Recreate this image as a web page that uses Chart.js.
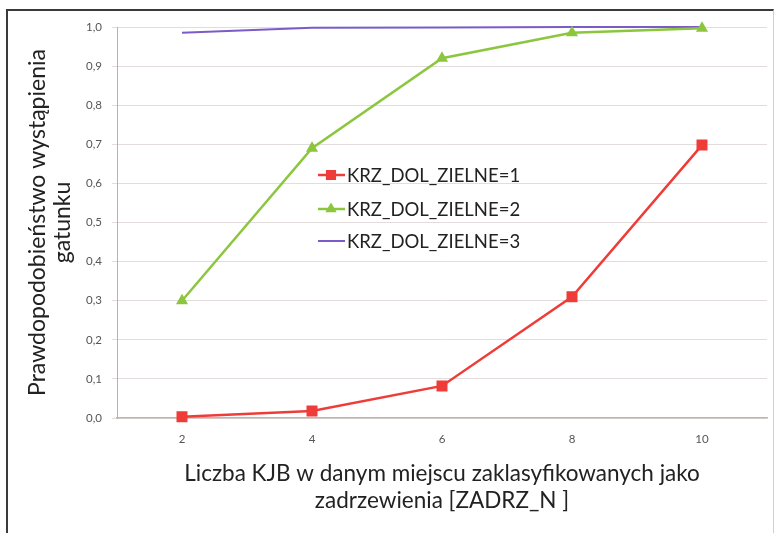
<!DOCTYPE html>
<html lang="pl">
  <head>
    <meta charset="utf-8" />
    <title>Prawdopodobieństwo wystąpienia gatunku</title>
    <style>
      * {
        margin: 0;
        padding: 0;
      }
      body {
        width: 777px;
        height: 533px;
        overflow: hidden;
        background: #fff;
        position: relative;
      }
      .frame {
        position: absolute;
        left: 6px;
        top: 9px;
        width: 765px;
        height: 600px;
        border-left: 2px solid #3a3a3a;
        border-top: 2px solid #3a3a3a;
        border-right: 1px solid #d0d0d0;
      }
      #myChart {
        position: absolute;
        left: 0;
        top: 0;
      }
    </style>
  </head>
  <body>
    <div class="frame"></div>
    <canvas id="myChart" width="777" height="533"></canvas>
    <script src="https://cdn.jsdelivr.net/npm/chart.js"></script>
    <script>
      // setup
      const categories = ["2", "4", "6", "8", "10"];
      const zielne1 = [0.003, 0.018, 0.082, 0.31, 0.698];
      const zielne2 = [0.3, 0.69, 0.92, 0.985, 0.997];
      const zielne3 = [0.985, 0.998, 0.999, 1.0, 1.0];
      const seriesNames = ["KRZ_DOL_ZIELNE=1", "KRZ_DOL_ZIELNE=2", "KRZ_DOL_ZIELNE=3"];
      const yTitle = ["Prawdopodobieństwo wystąpienia", "gatunku"];
      const xTitle = ["Liczba KJB w danym miejscu zaklasyfikowanych jako", "zadrzewienia [ZADRZ_N ]"];

      const FONT = "Lato, 'Open Sans', sans-serif";

      const data = {
        labels: categories,
        datasets: [
          {
            label: seriesNames[0],
            data: zielne1,
            borderColor: "#ee3d39",
            backgroundColor: "#ee3d39",
            borderWidth: 2.5,
            pointStyle: "rect",
            pointRadius: 6,
            clip: false,
          },
          {
            label: seriesNames[1],
            data: zielne2,
            borderColor: "#8cc63e",
            backgroundColor: "#8cc63e",
            borderWidth: 2.5,
            pointStyle: "triangle",
            pointRadius: 4.5,
            clip: false,
          },
          {
            label: seriesNames[2],
            data: zielne3,
            borderColor: "#7b5cc6",
            backgroundColor: "#7b5cc6",
            borderWidth: 2,
            pointRadius: 0,
            clip: false,
          },
        ],
      };

      // legend drawn inside the plot area
      const innerLegend = {
        id: "innerLegend",
        afterDatasetsDraw(chart) {
          const { ctx } = chart;
          const x0 = 318;
          const rows = [175, 209, 241];
          ctx.save();
          chart.data.datasets.forEach((ds, i) => {
            const y = rows[i];
            ctx.strokeStyle = ds.borderColor;
            ctx.lineWidth = ds.borderWidth;
            ctx.beginPath();
            ctx.moveTo(x0, y);
            ctx.lineTo(x0 + 27, y);
            ctx.stroke();
            if (ds.pointRadius > 0) {
              Chart.helpers.drawPoint(
                ctx,
                {
                  pointStyle: ds.pointStyle,
                  radius: ds.pointRadius * 0.9,
                  borderWidth: 1,
                },
                x0 + 13,
                y
              );
              ctx.fillStyle = ds.backgroundColor;
              ctx.fill();
            }
            ctx.fillStyle = "#222";
            ctx.font = "18.5px " + FONT;
            ctx.textBaseline = "middle";
            ctx.fillText(ds.label, x0 + 29, y + 1);
          });
          ctx.restore();
        },
      };

      // config
      const config = {
        type: "line",
        data,
        options: {
          responsive: false,
          animation: false,
          layout: {
            padding: { left: 14, top: 27, right: 10, bottom: 0 },
          },
          plugins: {
            legend: { display: false },
            tooltip: { enabled: false },
          },
          scales: {
            x: {
              offset: true,
              grid: { display: false, drawTicks: false },
              border: { display: true, color: "#c4b3ad", width: 1.5 },
              ticks: {
                padding: 14,
                color: "#555",
                font: { family: FONT, size: 11.5 },
              },
              title: {
                display: true,
                text: xTitle,
                color: "#222",
                font: { family: FONT, size: 22.5, lineHeight: 1.2 },
                padding: { top: 0, bottom: 19 },
              },
              afterFit(scale) {
                scale.height = 115;
              },
            },
            y: {
              min: 0,
              max: 1,
              grid: {
                color: "#e2dcdc",
                tickLength: 5,
              },
              border: { display: true, color: "#b9b0b0" },
              ticks: {
                stepSize: 0.1,
                padding: 10,
                color: "#555",
                font: { family: FONT, size: 11.5 },
                callback: (v) => v.toFixed(1).replace(".", ","),
              },
              title: {
                display: true,
                text: yTitle,
                color: "#222",
                font: { family: FONT, size: 23, lineHeight: 1.1 },
                padding: { top: 11, bottom: 0 },
              },
              afterFit(scale) {
                scale.width = 103;
              },
            },
          },
        },
        plugins: [innerLegend],
      };

      // render init block
      const myChart = new Chart(document.getElementById("myChart"), config);
    </script>
  </body>
</html>
